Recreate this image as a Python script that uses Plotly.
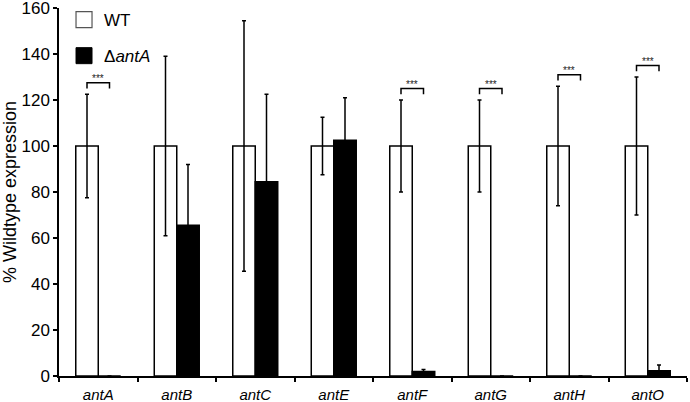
import plotly.graph_objects as go

genes = ["antA", "antB", "antC", "antE", "antF", "antG", "antH", "antO"]
wt_vals = [100, 100, 100, 100, 100, 100, 100, 100]
wt_err = [22.5, 39, 54.5, 12.5, 20, 20, 26, 30]
mut_vals = [0, 65.5, 84.5, 102.5, 2.0, 0, 0, 2.3]
mut_err = [0, 26.5, 38, 18.5, 0.8, 0, 0, 2.5]
signif = ["***", "", "", "", "***", "***", "***", "***"]
y_ticks = [0, 20, 40, 60, 80, 100, 120, 140, 160]

tick_text = [f"<i>{g}</i>" for g in genes]
FONT = "Liberation Sans, Arial, sans-serif"

fig = go.Figure()
fig.add_trace(go.Bar(
    x=genes, y=wt_vals, name="WT", showlegend=False,
    marker=dict(color="white", line=dict(color="black", width=1.5)),
    error_y=dict(type="data", array=wt_err, color="black", thickness=1.5, width=2),
))
fig.add_trace(go.Bar(
    x=genes, y=mut_vals, name="Δ<i>antA</i>", showlegend=False,
    marker=dict(color="black", line=dict(color="black", width=1.5)),
    error_y=dict(type="data", array=mut_err, color="black", thickness=1.5, width=2),
))
# legend entries
fig.add_trace(go.Scatter(
    x=[None], y=[None], mode="markers", name="WT", legendgroup="wt",
    marker=dict(symbol="square", size=16, color="white", line=dict(color="#555", width=1.2)),
))
fig.add_trace(go.Scatter(
    x=[None], y=[None], mode="markers", name="Δ<i>antA</i>", legendgroup="mut",
    marker=dict(symbol="square", size=16, color="black", line=dict(color="black", width=1)),
))

bargap = 0.427
half = (1 - bargap) / 4
for i, s in enumerate(signif):
    if not s:
        continue
    top = wt_vals[i] + wt_err[i]
    y0 = top + 2.5
    y1 = top + 5
    x0 = i - half
    x1 = i + half
    fig.add_shape(type="path",
                  path=f"M {x0} {y0} L {x0} {y1} L {x1} {y1} L {x1} {y0}",
                  xref="x", yref="y", line=dict(color="black", width=1.5))
    fig.add_annotation(x=i, y=y1, text=s, showarrow=False, yanchor="bottom",
                       yshift=-3, font=dict(family=FONT, size=10, color="#222222"))

fig.update_layout(
    width=690, height=402,
    margin=dict(l=59, r=3, t=8, b=26, autoexpand=False),
    plot_bgcolor="white", paper_bgcolor="white",
    barmode="group", bargap=bargap, bargroupgap=0,
    font=dict(family=FONT, color="black"),
    legend=dict(x=0.008, y=0.995, xref="paper", yref="container",
                xanchor="left", yanchor="top",
                font=dict(family=FONT, size=17), tracegroupgap=11,
                bgcolor="rgba(0,0,0,0)"),
)
fig.update_xaxes(
    tickvals=genes, ticktext=tick_text, tickson="boundaries",
    ticks="outside", ticklen=4, tickwidth=1.5, tickcolor="black",
    showline=True, linecolor="black", linewidth=1.5, automargin=False,
    ticklabelstandoff=4, ticklabeloverflow="allow",
    tickfont=dict(family=FONT, size=15), showgrid=False,
)
fig.update_yaxes(
    range=[0, 160.001], tickvals=y_ticks, ticks="outside", ticklen=4, tickwidth=1.5,
    tickcolor="black", showline=True, linecolor="black", linewidth=1.5,
    showgrid=False, zeroline=False, tickfont=dict(family=FONT, size=17),
    automargin=True, ticklabeloverflow="allow",
    title=dict(text="% Wildtype expression", font=dict(family=FONT, size=18), standoff=11),
)

# remove the page's default 8px body margin so the figure sits at the window corner
fig.write_html("out.html", config={"displayModeBar": False},
               post_script="document.body.style.margin='0px';")
